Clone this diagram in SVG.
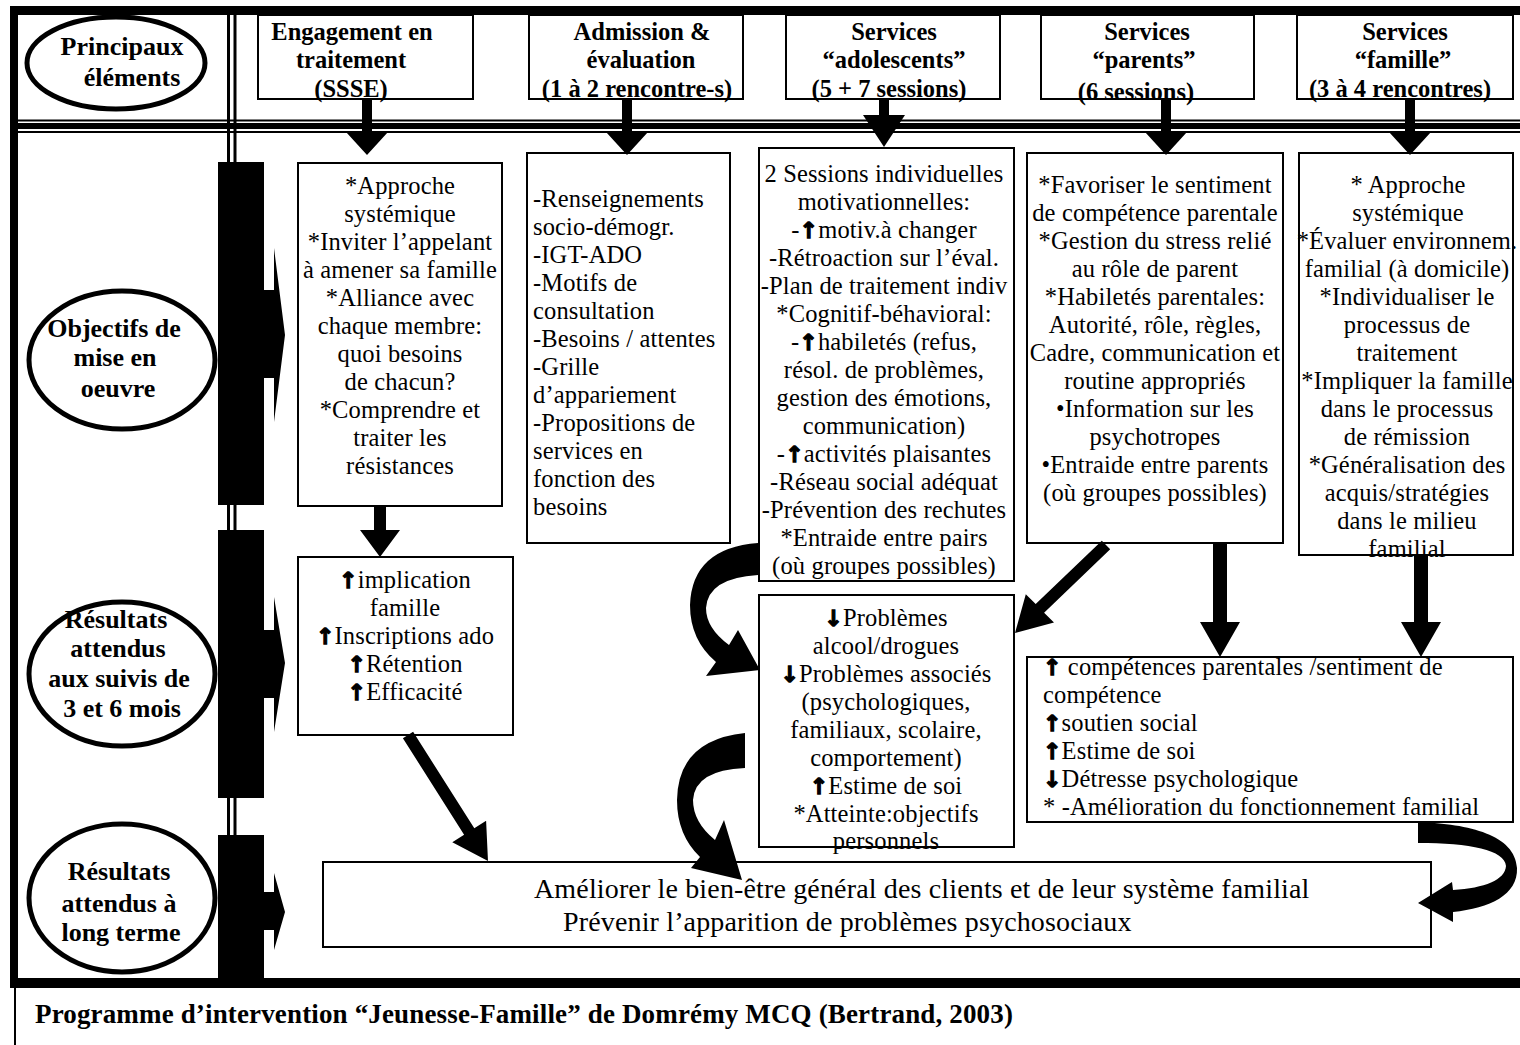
<svg xmlns="http://www.w3.org/2000/svg" width="1520" height="1045" viewBox="0 0 1520 1045">
<style>
.blk{fill:#000}
.box{fill:#fff;stroke:#000;stroke-width:2}
.ell{fill:#fff;stroke:#000;stroke-width:5}
.ln{stroke:#000;fill:none}
.lbl{font-family:"Liberation Serif","Times New Roman",serif;font-weight:bold;font-size:26px;text-anchor:middle}
.hdr{font-family:"Liberation Serif","Times New Roman",serif;font-weight:bold;font-size:24.5px;text-anchor:middle}
.t{font-family:"Liberation Serif","Times New Roman",serif;font-size:24.5px;letter-spacing:0.15px}
.m{text-anchor:middle}
.big{font-family:"Liberation Serif","Times New Roman",serif;font-size:28px;letter-spacing:0.15px}
.cap{font-family:"Liberation Serif","Times New Roman",serif;font-weight:bold;font-size:27px;letter-spacing:0.15px}
.ar{font-family:"DejaVu Sans",sans-serif;font-weight:bold;font-size:22px;stroke:#000;stroke-width:1.3}
.con{fill:#000;stroke:none}
</style>
<rect width="1520" height="1045" fill="#fff"/>
<g id="frame">
<rect class="blk" x="10" y="6" width="1510" height="9"/>
<rect class="blk" x="10" y="6" width="8" height="982"/>
<rect class="blk" x="10" y="978" width="1510" height="10"/>
<line class="ln" x1="15" y1="988" x2="15" y2="1045" stroke-width="2"/>
<line class="ln" x1="18" y1="120.5" x2="1520" y2="120.5" stroke-width="2"/>
<rect class="blk" x="18" y="123" width="1502" height="6"/>
<line class="ln" x1="18" y1="132" x2="1520" y2="132" stroke-width="2"/>
<line class="ln" x1="228.5" y1="15" x2="228.5" y2="978" stroke-width="3"/>
<line class="ln" x1="235" y1="15" x2="235" y2="978" stroke-width="3"/>
<rect class="blk" x="218" y="162" width="46" height="343"/>
<rect class="blk" x="218" y="530" width="46" height="268"/>
<rect class="blk" x="218" y="835" width="46" height="145"/>
<polygon class="blk" points="263,290 274,290 274,248 285,335 274,422 274,378 263,378"/>
<polygon class="blk" points="263,630 274,630 274,597 285,663 274,732 274,698 263,698"/>
<polygon class="blk" points="263,892 274,892 274,873 285,912 274,950 274,930 263,930"/>
</g>
<g id="lbl-principaux">
<ellipse class="ell" cx="116" cy="63" rx="89" ry="46"/>
<text class="lbl"><tspan x="122" y="55">Principaux</tspan><tspan x="132" y="86">éléments</tspan></text>
</g>
<g id="lbl-objectifs">
<ellipse class="ell" cx="122" cy="360" rx="93" ry="69"/>
<text class="lbl"><tspan x="114" y="337">Objectifs de</tspan><tspan x="115" y="366">mise en</tspan><tspan x="118" y="397">oeuvre</tspan></text>
</g>
<g id="lbl-resultats-court">
<ellipse class="ell" cx="122" cy="674" rx="93" ry="72"/>
<text class="lbl"><tspan x="116" y="628">Résultats</tspan><tspan x="118" y="657">attendus</tspan><tspan x="119" y="687">aux suivis de</tspan><tspan x="122" y="717">3 et 6 mois</tspan></text>
</g>
<g id="lbl-resultats-long">
<ellipse class="ell" cx="122" cy="898" rx="93" ry="74"/>
<text class="lbl"><tspan x="119" y="880">Résultats</tspan><tspan x="119" y="912">attendus à</tspan><tspan x="121" y="941">long terme</tspan></text>
</g>
<g id="hdr-engagement">
<rect class="box" x="258" y="15" width="215" height="84"/>
<text class="hdr"><tspan x="352" y="40">Engagement en</tspan><tspan x="351" y="68">traitement</tspan><tspan x="351" y="97">(SSSE)</tspan></text>
</g>
<g id="hdr-admission">
<rect class="box" x="529" y="15" width="214" height="84"/>
<text class="hdr"><tspan x="642" y="40">Admission &amp;</tspan><tspan x="641" y="68">évaluation</tspan><tspan x="637" y="97">(1 à 2 rencontre-s)</tspan></text>
</g>
<g id="hdr-adolescents">
<rect class="box" x="786" y="15" width="214" height="84"/>
<text class="hdr"><tspan x="894" y="40">Services</tspan><tspan x="894" y="68">“adolescents”</tspan><tspan x="889" y="97">(5 + 7 sessions)</tspan></text>
</g>
<g id="hdr-parents">
<rect class="box" x="1041" y="15" width="213" height="84"/>
<text class="hdr"><tspan x="1147" y="40">Services</tspan><tspan x="1144" y="68">“parents”</tspan><tspan x="1136" y="100">(6 sessions)</tspan></text>
</g>
<g id="hdr-famille">
<rect class="box" x="1297" y="15" width="216" height="84"/>
<text class="hdr"><tspan x="1405" y="40">Services</tspan><tspan x="1403" y="68">“famille”</tspan><tspan x="1400" y="97">(3 à 4 rencontres)</tspan></text>
</g>
<g id="obj-engagement">
<rect class="box" x="298" y="163" width="204" height="343"/>
<text class="t m"><tspan x="400" y="194">*Approche</tspan><tspan x="400" y="222">systémique</tspan><tspan x="400" y="250">*Inviter l’appelant</tspan><tspan x="400" y="278">à amener sa famille</tspan><tspan x="400" y="306">*Alliance avec</tspan><tspan x="400" y="334">chaque membre:</tspan><tspan x="400" y="362">quoi besoins</tspan><tspan x="400" y="390">de chacun?</tspan><tspan x="400" y="418">*Comprendre et</tspan><tspan x="400" y="446">traiter les</tspan><tspan x="400" y="474">résistances</tspan></text>
</g>
<g id="obj-admission">
<rect class="box" x="527" y="153" width="203" height="390"/>
<text class="t"><tspan x="533" y="207">-Renseignements</tspan><tspan x="533" y="235">socio-démogr.</tspan><tspan x="533" y="263">-IGT-ADO</tspan><tspan x="533" y="291">-Motifs de</tspan><tspan x="533" y="319">consultation</tspan><tspan x="533" y="347">-Besoins / attentes</tspan><tspan x="533" y="375">-Grille</tspan><tspan x="533" y="403">d’appariement</tspan><tspan x="533" y="431">-Propositions de</tspan><tspan x="533" y="459">services en</tspan><tspan x="533" y="487">fonction des</tspan><tspan x="533" y="515">besoins</tspan></text>
</g>
<g id="obj-adolescents">
<rect class="box" x="759" y="148" width="255" height="433"/>
<text class="t m"><tspan x="884" y="182">2 Sessions individuelles</tspan><tspan x="884" y="210">motivationnelles:</tspan><tspan x="884" y="238">-<tspan class="ar">↑</tspan>motiv.à changer</tspan><tspan x="884" y="266">-Rétroaction sur l’éval.</tspan><tspan x="884" y="294">-Plan de traitement indiv</tspan><tspan x="884" y="322">*Cognitif-béhavioral:</tspan><tspan x="884" y="350">-<tspan class="ar">↑</tspan>habiletés (refus,</tspan><tspan x="884" y="378">résol. de problèmes,</tspan><tspan x="884" y="406">gestion des émotions,</tspan><tspan x="884" y="434">communication)</tspan><tspan x="884" y="462">-<tspan class="ar">↑</tspan>activités plaisantes</tspan><tspan x="884" y="490">-Réseau social adéquat</tspan><tspan x="884" y="518">-Prévention des rechutes</tspan><tspan x="884" y="546">*Entraide entre pairs</tspan><tspan x="884" y="574">(où groupes possibles)</tspan></text>
</g>
<g id="obj-parents">
<rect class="box" x="1027" y="153" width="256" height="390"/>
<text class="t m"><tspan x="1155" y="193">*Favoriser le sentiment</tspan><tspan x="1155" y="221">de compétence parentale</tspan><tspan x="1155" y="249">*Gestion du stress relié</tspan><tspan x="1155" y="277">au rôle de parent</tspan><tspan x="1155" y="305">*Habiletés parentales:</tspan><tspan x="1155" y="333">Autorité, rôle, règles,</tspan><tspan x="1155" y="361">Cadre, communication et</tspan><tspan x="1155" y="389">routine appropriés</tspan><tspan x="1155" y="417">•Information sur les</tspan><tspan x="1155" y="445">psychotropes</tspan><tspan x="1155" y="473">•Entraide entre parents</tspan><tspan x="1155" y="501">(où groupes possibles)</tspan></text>
</g>
<g id="obj-famille">
<rect class="box" x="1299" y="153" width="214" height="402"/>
<text class="t m"><tspan x="1408" y="193">* Approche</tspan><tspan x="1408" y="221">systémique</tspan><tspan x="1407" y="249">*Évaluer environnem.</tspan><tspan x="1407" y="277">familial (à domicile)</tspan><tspan x="1407" y="305">*Individualiser le</tspan><tspan x="1407" y="333">processus de</tspan><tspan x="1407" y="361">traitement</tspan><tspan x="1407" y="389">*Impliquer la famille</tspan><tspan x="1407" y="417">dans le processus</tspan><tspan x="1407" y="445">de rémission</tspan><tspan x="1407" y="473">*Généralisation des</tspan><tspan x="1407" y="501">acquis/stratégies</tspan><tspan x="1407" y="529">dans le milieu</tspan><tspan x="1407" y="557">familial</tspan></text>
</g>
<g id="res-engagement">
<rect class="box" x="298" y="557" width="215" height="178"/>
<text class="t m"><tspan x="405" y="588"><tspan class="ar">↑</tspan>implication</tspan><tspan x="405" y="616">famille</tspan><tspan x="405" y="644"><tspan class="ar">↑</tspan>Inscriptions ado</tspan><tspan x="405" y="672"><tspan class="ar">↑</tspan>Rétention</tspan><tspan x="405" y="700"><tspan class="ar">↑</tspan>Efficacité</tspan></text>
</g>
<g id="res-adolescents">
<rect class="box" x="759" y="595" width="255" height="252"/>
<text class="t m"><tspan x="886" y="626"><tspan class="ar">↓</tspan>Problèmes</tspan><tspan x="886" y="654">alcool/drogues</tspan><tspan x="886" y="682"><tspan class="ar">↓</tspan>Problèmes associés</tspan><tspan x="886" y="710">(psychologiques,</tspan><tspan x="886" y="738">familiaux, scolaire,</tspan><tspan x="886" y="766">comportement)</tspan><tspan x="886" y="794"><tspan class="ar">↑</tspan>Estime de soi</tspan><tspan x="886" y="822">*Atteinte:objectifs</tspan><tspan x="886" y="849">personnels</tspan></text>
</g>
<g id="res-parents">
<rect class="box" x="1027" y="657" width="486" height="165"/>
<text class="t"><tspan x="1043" y="675"><tspan class="ar">↑</tspan> compétences parentales /sentiment de</tspan><tspan x="1043" y="703">compétence</tspan><tspan x="1043" y="731"><tspan class="ar">↑</tspan>soutien social</tspan><tspan x="1043" y="759"><tspan class="ar">↑</tspan>Estime de soi</tspan><tspan x="1043" y="787"><tspan class="ar">↓</tspan>Détresse psychologique</tspan><tspan x="1043" y="815">* -Amélioration du fonctionnement familial</tspan></text>
</g>
<g id="res-long-terme">
<rect class="box" x="323" y="862" width="1108" height="85"/>
<text class="big"><tspan x="534" y="898">Améliorer le bien-être général des clients et de leur système familial</tspan><tspan x="563" y="931">Prévenir l’apparition de problèmes psychosociaux</tspan></text>
</g>
<g id="connectors">
<polygon class="con" points="362,99 372,99 372,132 388,132 367,155 346,132 362,132"/>
<polygon class="con" points="622,99 632,99 632,132 648,132 627,155 606,132 622,132"/>
<polygon class="con" points="879,99 889,99 889,115 905,115 884,147 863,115 879,115"/>
<polygon class="con" points="1161,99 1171,99 1171,132 1187,132 1166,155 1145,132 1161,132"/>
<polygon class="con" points="1405,99 1415,99 1415,132 1431,132 1410,155 1389,132 1405,132"/>
<polygon class="con" points="374,506 386,506 386,530 400,530 380,557 360,530 374,530"/>
<polygon class="con" points="402.9,738.2 413.1,731.8 474.3,828.3 486.1,820.8 488,861 452.3,842.2 464.1,834.7"/>
<polygon class="con" points="1101.8,540.7 1110.2,549.3 1044.1,612.7 1054,622.6 1015,633 1025.8,594.2 1035.7,604.1"/>
<polygon class="con" points="1213,543 1227,543 1227,622 1240,622 1220,657 1200,622 1213,622"/>
<polygon class="con" points="1414,555 1428,555 1428,622 1441,622 1421,657 1401,622 1414,622"/>
<path class="con" d="M758 543 Q692 548 690 605 Q690 640 716 662 L706 676 L760 670 L738 630 L729 645 Q706 628 706 608 Q708 578 758 575 Z"/>
<path class="con" d="M745 733 Q678 740 677 800 Q677 835 700 857 L691 868 L742 880 L724 820 L715 840 Q693 822 693 800 Q695 770 745 768 Z"/>
<path class="con" d="M1418 822 C1470 824 1515 835 1517 868 C1518 895 1490 908 1453 912 L1453 922 L1418 903 L1452 882 L1453 890 C1485 888 1505 880 1506 866 C1505 850 1470 843 1418 843 Z"/>
</g>
<text class="cap" x="35" y="1023">Programme d’intervention “Jeunesse-Famille” de Domrémy MCQ (Bertrand, 2003)</text>
</svg>
